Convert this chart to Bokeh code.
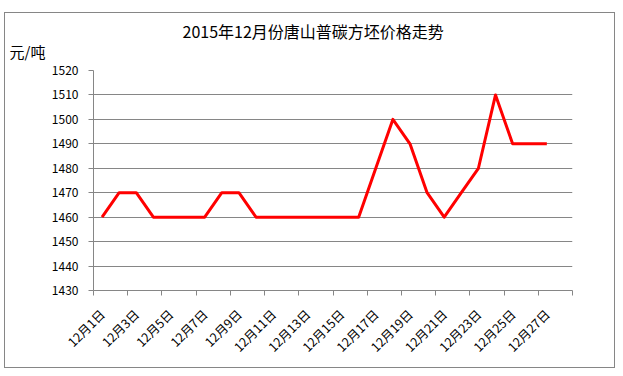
import math
from bokeh.plotting import figure
from bokeh.models import Range1d, FixedTicker, Title
from bokeh.embed import file_html
from bokeh.resources import INLINE

days = [f"12月{d}日" for d in range(1, 29)]
prices = [1460, 1470, 1470, 1460, 1460, 1460, 1460, 1470, 1470, 1460,
          1460, 1460, 1460, 1460, 1460, 1460, 1480, 1500, 1490, 1470,
          1460, 1470, 1480, 1510, 1490, 1490, 1490]
y_ticks = list(range(1430, 1521, 10))
title_text = "2015年12月份唐山普碳方坯价格走势"
unit_text = "元/吨"

FONT = "Noto Sans CJK SC"
GRAY = "#868686"

x = [i + 0.5 for i in range(len(prices))]

p = figure(width=611, height=356, output_backend="svg", toolbar_location=None,
           x_range=Range1d(0, len(days)), y_range=Range1d(y_ticks[0], y_ticks[-1]),
           min_border_left=88, min_border_right=44, min_border_top=57, min_border_bottom=79)
p.margin = (12, 7, 7, 4)
p.styles = {"border": f"1px solid {GRAY}"}
p.outline_line_color = None
p.background_fill_color = "white"
p.border_fill_color = "white"

p.title.text = title_text
p.title.align = "left"
p.title.offset = 89
p.title.text_font = FONT
p.title.text_font_size = "16px"
p.title.text_font_style = "normal"
p.title.text_color = "black"
p.title.standoff = -24

unit_title = Title(text=unit_text, align="left", offset=-84, text_font=FONT,
                   text_font_size="15px", text_font_style="normal",
                   text_color="black", standoff=17)
p.add_layout(unit_title, "above")

p.xgrid.visible = False
p.ygrid.grid_line_color = GRAY
p.ygrid.grid_line_width = 1

p.yaxis.ticker = FixedTicker(ticks=y_ticks, minor_ticks=[])
p.yaxis.axis_line_color = GRAY
p.yaxis.major_tick_line_color = GRAY
p.yaxis.major_tick_out = 5
p.yaxis.major_tick_in = 0
p.yaxis.minor_tick_line_color = None
p.yaxis.major_label_standoff = 10
p.yaxis.major_label_text_font = FONT
p.yaxis.major_label_text_font_size = "12px"
p.yaxis.major_label_text_color = "black"

label_pos = [i + 0.5 for i in range(0, len(days), 2)]
p.xaxis.ticker = FixedTicker(ticks=label_pos, minor_ticks=list(range(0, len(days) + 1, 2)))
p.xaxis.major_label_overrides = {pos: days[int(pos)] for pos in label_pos}
p.xaxis.axis_line_color = GRAY
p.xaxis.major_tick_line_color = None
p.xaxis.major_tick_out = 0
p.xaxis.major_tick_in = 0
p.xaxis.minor_tick_line_color = GRAY
p.xaxis.minor_tick_out = 5
p.xaxis.minor_tick_in = 0
p.xaxis.major_label_orientation = math.pi / 4
p.xaxis.major_label_standoff = 16
p.xaxis.major_label_text_font = FONT
p.xaxis.major_label_text_font_size = "12.5px"
p.xaxis.major_label_text_color = "black"

p.line(x, prices, line_color="#FF0000", line_width=3, line_join="round")

open("out.html", "w").write(file_html(p, INLINE))
